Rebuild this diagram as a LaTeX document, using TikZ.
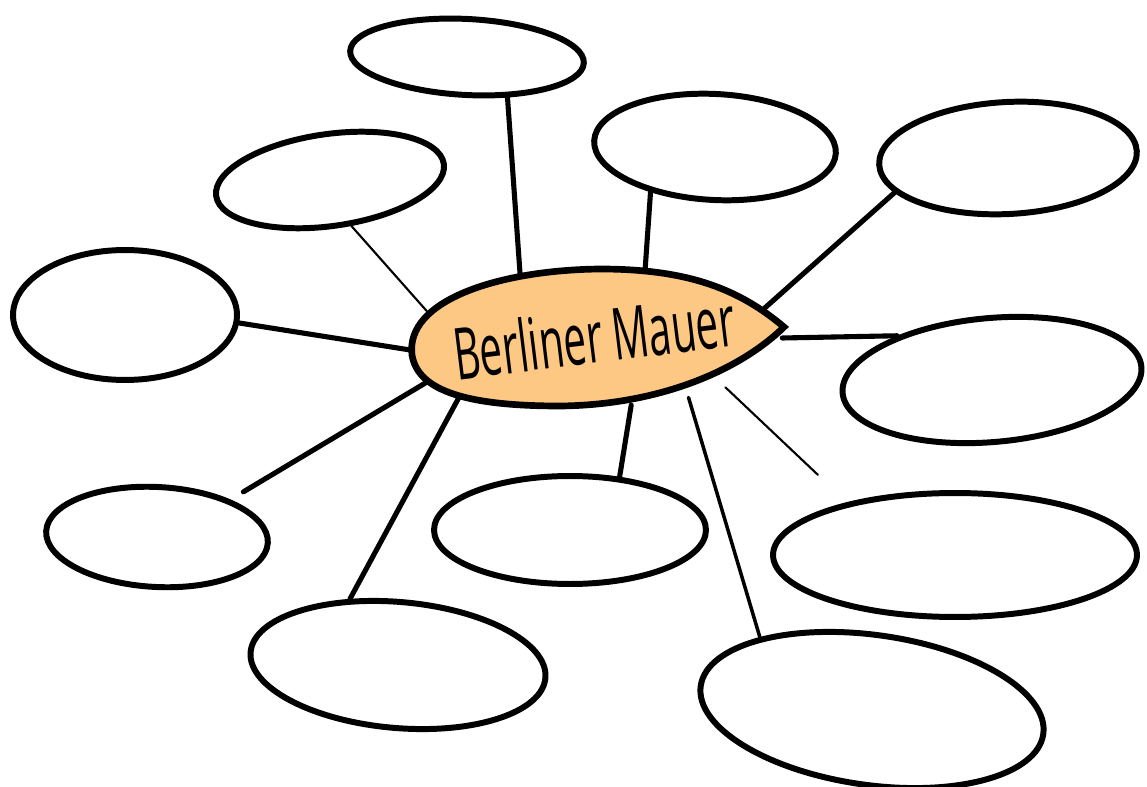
\documentclass[tikz,border=0pt]{standalone}
\usepackage{fontspec}
\setmainfont{Open Sans}
\usetikzlibrary{shapes.geometric}
\definecolor{MauerOrange}{HTML}{FDC784}

\begin{document}
\begin{tikzpicture}[x=0.02cm,y=-0.02cm,
  bubble/.style={ellipse,draw,line width=3.4pt,inner sep=0pt},
  thickline/.style={line width=2.9pt,line cap=round},
  thinline/.style={line width=1.2pt,line cap=round}]
   \useasboundingbox (0,0) rectangle (1147,787);

   % empty bubbles
   \node[bubble,minimum width=4.68cm,minimum height=1.52cm,rotate=-3] (top) at (467,57) {};
   \node[bubble,minimum width=4.6cm,minimum height=1.84cm,rotate=8] (upleft) at (330,180) {};
   \node[bubble,minimum width=4.84cm,minimum height=2.12cm,rotate=-3] (topmid) at (715,147) {};
   \node[bubble,minimum width=5.16cm,minimum height=2.24cm,rotate=3] (topright) at (1008,158) {};
   \node[bubble,minimum width=4.48cm,minimum height=2.6cm] (left) at (125,315) {};
   \node[bubble,minimum width=6cm,minimum height=2.48cm,rotate=5] (right) at (992,380) {};
   \node[bubble,minimum width=4.44cm,minimum height=2cm,rotate=-3] (lowleft) at (157,537) {};
   \node[bubble,minimum width=5.44cm,minimum height=2.16cm] (lowmid) at (570,530) {};
   \node[bubble,minimum width=7.28cm,minimum height=2.48cm] (lowright) at (955,555) {};
   \node[bubble,minimum width=5.92cm,minimum height=2.52cm,rotate=-5] (botleft) at (398,665) {};
   \node[bubble,minimum width=6.92cm,minimum height=3cm,rotate=-8] (botright) at (872,710) {};

   \node[ellipse,minimum width=7.4cm,minimum height=2.72cm,inner sep=0pt] (mauer) at (597,338) {};

   % connectors
   \draw[thickline] (top.-42) -- (mauer.141);
   \draw[thinline] (upleft.-73) -- (mauer.171);
   \draw[thickline] (topmid.-142) -- (mauer.54);
   \draw[thickline] (topright.-166) -- (mauer.10);
   \draw[thickline] (left.-4) -- (mauer.184);
   \draw[thickline] (right.150) -- (mauer.0);
   \draw[thickline,shorten <=0.3cm] (lowleft.30) -- (mauer.-167);
   \draw[thickline] (lowmid.47) -- (mauer.-63);
   \draw[thinline,shorten <=0.8cm] (lowright.154) -- (mauer.-21);
   \draw[thickline] (botleft.131) -- (mauer.-160);
   \draw[line width=2pt,line cap=round] (botright.155) -- (mauer.-33);

   % centre
   \draw[line width=3.8pt,fill=MauerOrange] (412,355)
    .. controls (405,300) and (500,270) .. (600,269)
    .. controls (690,269) and (740,290) .. (784,327)
    .. controls (740,370) and (660,405) .. (560,406)
    .. controls (470,406) and (418,392) .. (412,355) -- cycle;
   \node[font=\fontsize{41}{41}\selectfont] (title) at (594,336)
    {\rotatebox{7}{\scalebox{0.56}[1]{Berliner Mauer}}};
\end{tikzpicture}
\end{document}
